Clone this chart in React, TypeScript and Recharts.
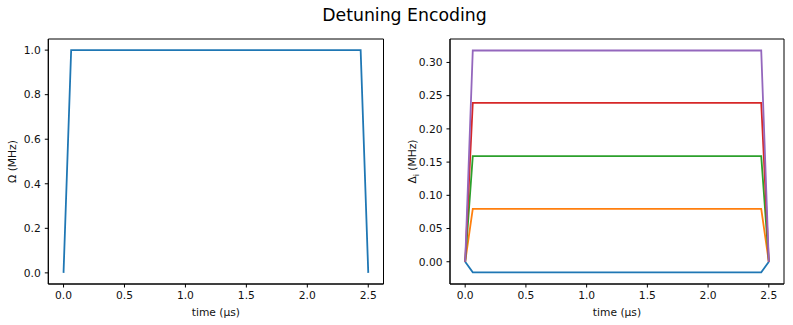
import { Line, LineChart, ReferenceArea, XAxis, YAxis } from 'recharts'

// sample times (µs)
const times = [0, 0.0625, 2.4375, 2.5]
const xTicks = [0, 0.5, 1, 1.5, 2, 2.5]

// left panel: Rabi amplitude
const omega = [0, 1, 1, 0]
const omegaTicks = [0, 0.2, 0.4, 0.6, 0.8, 1.0]

// right panel: local detunings, one per atom
const delta0 = [0, -0.0159, -0.0159, 0]
const delta1 = [0, 0.0796, 0.0796, 0]
const delta2 = [0, 0.159, 0.159, 0]
const delta3 = [0, 0.239, 0.239, 0]
const delta4 = [0, 0.318, 0.318, 0]
const deltaTicks = [0, 0.05, 0.1, 0.15, 0.2, 0.25, 0.3]

const deltaSeries = [
  { key: 'd0', values: delta0, color: '#1f77b4' },
  { key: 'd1', values: delta1, color: '#ff7f0e' },
  { key: 'd2', values: delta2, color: '#2ca02c' },
  { key: 'd3', values: delta3, color: '#d62728' },
  { key: 'd4', values: delta4, color: '#9467bd' },
]

const omegaData = times.map((t, i) => ({ t, v: omega[i] }))
const deltaData = times.map((t, i) => {
  const row: Record<string, number> = { t }
  deltaSeries.forEach((s) => (row[s.key] = s.values[i]))
  return row
})

const FONT = 'DejaVu Sans, sans-serif'
const INK = '#000'
const FS = 10.7
const tickStyle = { fontSize: FS, fontFamily: FONT, fill: '#111' }
const xDomain = [-0.125, 2.625]
const omegaDomain = [-0.05, 1.05]
const deltaDomain = [-0.0335, 0.3353]

function YLabel({ viewBox, sub }: any) {
  if (!viewBox) return null
  const cx = viewBox.x + 12.7
  const cy = viewBox.y + viewBox.height / 2
  return (
    <text
      x={cx}
      y={cy}
      dy="0.355em"
      transform={`rotate(-90, ${cx}, ${cy})`}
      textAnchor="middle"
      fontFamily={FONT}
      fontSize={FS}
      fill="#111"
    >
      {sub ? (
        <>
          Δ
          <tspan fontSize={7.8} dy={2.5}>
            i
          </tspan>
          <tspan dy={-2.5}> (MHz)</tspan>
        </>
      ) : (
        'Ω (MHz)'
      )}
    </text>
  )
}

export default function App() {
  const xAxisCommon = {
    type: 'number' as const,
    dataKey: 't',
    domain: xDomain,
    allowDataOverflow: true,
    ticks: xTicks,
    tickFormatter: (v: number) => v.toFixed(1),
    height: 41,
    tickSize: 3.5,
    tickMargin: 3.5,
    tick: tickStyle,
    stroke: INK,
    label: {
      value: 'time (µs)',
      position: 'insideBottom' as const,
      offset: 9.5,
      style: { ...tickStyle, textAnchor: 'middle' as const },
    },
  }

  return (
    <div
      style={{
        position: 'absolute',
        left: 0,
        top: 0,
        width: 793,
        height: 325,
        background: '#fff',
        fontFamily: FONT,
      }}
    >
      <div
        style={{
          position: 'absolute',
          left: 8,
          top: 4.6,
          width: 793,
          textAlign: 'center',
          fontSize: 17.3,
          color: '#000',
        }}
      >
        Detuning Encoding
      </div>

      <div style={{ position: 'absolute', left: 0, top: 0 }}>
        <LineChart width={400} height={325} data={omegaData} margin={{ top: 39, right: 16.5, bottom: 0, left: 0 }}>
          <XAxis {...xAxisCommon} />
          <YAxis
            type="number"
            domain={omegaDomain}
            allowDataOverflow
            ticks={omegaTicks}
            tickFormatter={(v: number) => v.toFixed(1)}
            width={48.3}
            tickSize={3.5}
            tickMargin={4}
            tick={tickStyle}
            stroke={INK}
            label={<YLabel />}
          />
          <ReferenceArea
            x1={xDomain[0]}
            x2={xDomain[1]}
            y1={omegaDomain[0]}
            y2={omegaDomain[1]}
            fill="none"
            stroke={INK}
            strokeWidth={1}
            ifOverflow="visible"
          />
          <Line type="linear" dataKey="v" stroke="#1f77b4" strokeWidth={1.8} dot={false} isAnimationActive={false} />
        </LineChart>
      </div>

      <div style={{ position: 'absolute', left: 400, top: 0 }}>
        <LineChart width={393} height={325} data={deltaData} margin={{ top: 39, right: 9, bottom: 0, left: 0 }}>
          <XAxis {...xAxisCommon} />
          <YAxis
            type="number"
            domain={deltaDomain}
            allowDataOverflow
            ticks={deltaTicks}
            tickFormatter={(v: number) => v.toFixed(2)}
            width={50}
            tickSize={3.5}
            tickMargin={4}
            tick={tickStyle}
            stroke={INK}
            label={<YLabel sub />}
          />
          <ReferenceArea
            x1={xDomain[0]}
            x2={xDomain[1]}
            y1={deltaDomain[0]}
            y2={deltaDomain[1]}
            fill="none"
            stroke={INK}
            strokeWidth={1}
            ifOverflow="visible"
          />
          {deltaSeries.map((s) => (
            <Line
              key={s.key}
              type="linear"
              dataKey={s.key}
              stroke={s.color}
              strokeWidth={1.8}
              dot={false}
              isAnimationActive={false}
            />
          ))}
        </LineChart>
      </div>
    </div>
  )
}
